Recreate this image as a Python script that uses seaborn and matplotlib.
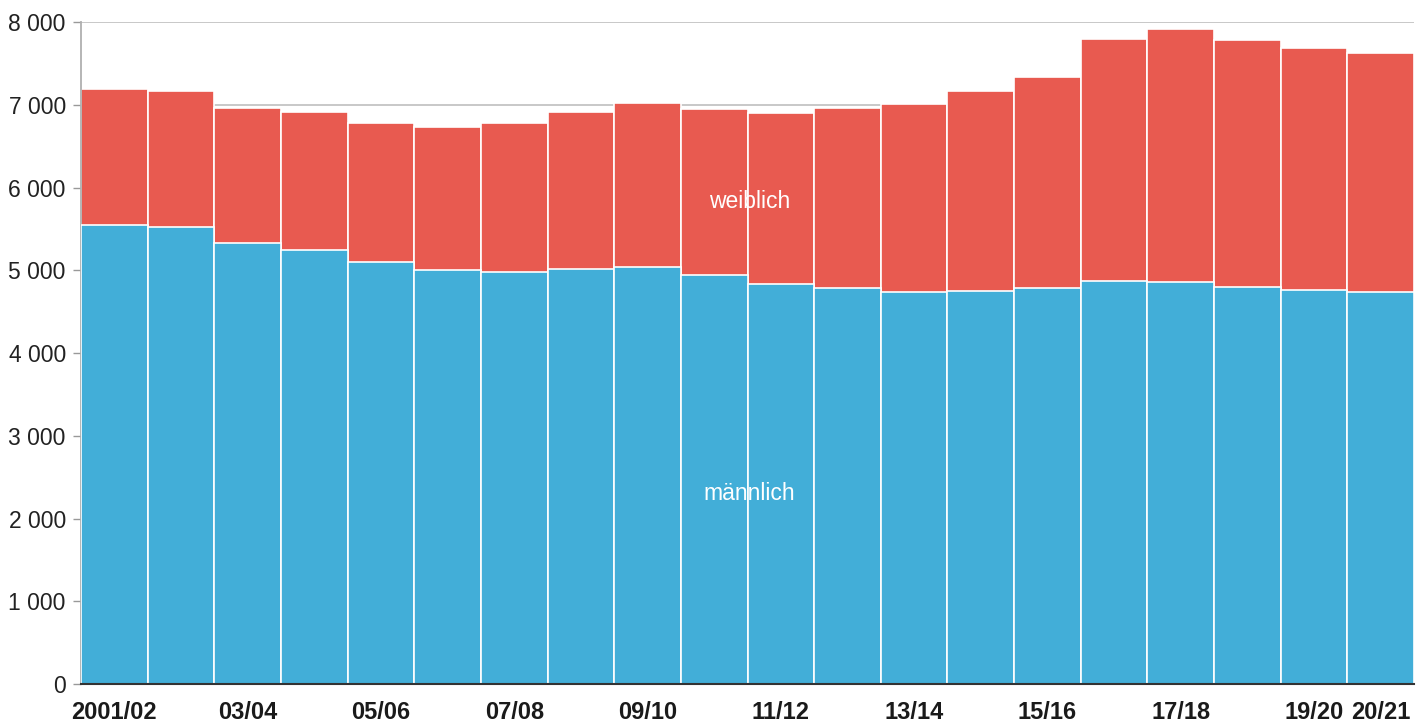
import matplotlib
matplotlib.use("Agg")
import matplotlib.pyplot as plt
import seaborn as sns
import pandas as pd

# data
jahre = ["2001/02", "02/03", "03/04", "04/05", "05/06", "06/07", "07/08", "08/09", "09/10", "10/11",
         "11/12", "12/13", "13/14", "14/15", "15/16", "16/17", "17/18", "18/19", "19/20", "20/21"]
maennlich = [5547, 5523, 5329, 5241, 5100, 5003, 4975, 5015, 5036, 4943,
             4834, 4789, 4733, 4749, 4782, 4866, 4858, 4794, 4761, 4741]
gesamt = [7196, 7166, 6961, 6909, 6775, 6731, 6784, 6909, 7017, 6949,
          6900, 6961, 7005, 7166, 7331, 7795, 7915, 7786, 7686, 7629]
weiblich = [g - m for g, m in zip(gesamt, maennlich)]
tick_labels = ["2001/02", "03/04", "05/06", "07/08", "09/10", "11/12", "13/14", "15/16", "17/18", "19/20", "20/21"]

df = pd.DataFrame({"jahr": jahre, "maennlich": maennlich, "gesamt": gesamt})

sns.set_style("white")
plt.rcParams["font.family"] = ["Liberation Sans", "DejaVu Sans"]

fig = plt.figure(figsize=(14.27, 7.22), dpi=100)
ax = fig.add_axes([0.0568, 0.0526, 0.9341, 0.9169])

rot = "#E85A50"
blau = "#42AED8"

# total height in red, male part in blue on top of it
sns.barplot(data=df, x="jahr", y="gesamt", color=rot, width=1.0, edgecolor="white",
            linewidth=1.2, saturation=1, ax=ax, zorder=2)
sns.barplot(data=df, x="jahr", y="maennlich", color=blau, width=1.0, edgecolor="white",
            linewidth=1.2, saturation=1, ax=ax, zorder=3)

ax.set_xlim(-0.5, len(jahre) - 0.5)
ax.set_ylim(0, 8000)
ax.set_yticks(range(0, 8001, 1000))
ax.set_yticklabels([f"{v:,}".replace(",", " ") for v in range(0, 8001, 1000)], fontsize=16.5, color="#222222")
ax.yaxis.grid(True, color="#c4c4c4", linewidth=1.3, zorder=0)
ax.set_axisbelow(True)

pos = [jahre.index(t) for t in tick_labels]
ax.set_xticks(pos)
ax.set_xticklabels(tick_labels, fontsize=17, fontweight="bold", color="#1a1a1a")
ax.tick_params(axis="x", length=0, pad=12)
ax.tick_params(axis="y", length=6, width=1, color="#999999", pad=5, left=True)

ax.set_xlabel("")
ax.set_ylabel("")
sns.despine(ax=ax, top=True, right=True)
ax.spines["left"].set_color("#b0b0b0")
ax.spines["left"].set_linewidth(1.3)
ax.spines["bottom"].set_color("#333333")
ax.spines["bottom"].set_linewidth(1.5)
ax.spines["bottom"].set_zorder(5)

ax.text(9.53, 5837, "weiblich", color="white", fontsize=16.5, ha="center", va="center", zorder=6)
ax.text(9.53, 2308, "männlich", color="white", fontsize=16.5, ha="center", va="center", zorder=6)

plt.savefig("out.png", dpi=100)
